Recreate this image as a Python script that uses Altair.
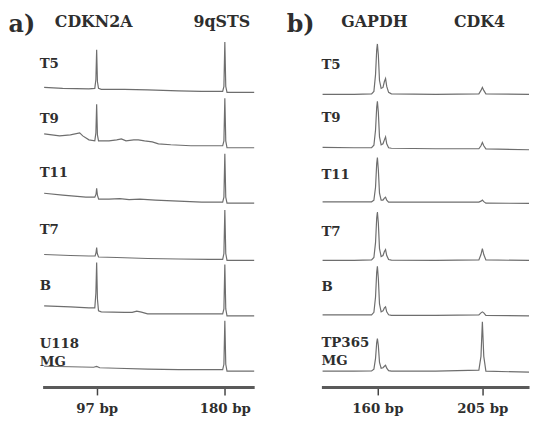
import altair as alt
import pandas as pd

# ---------------- panel a) : CDKN2A / 9qSTS ----------------
A_LABELS = ["T5", "T9", "T11", "T7", "B", "U118\nMG"]
A_MARKERS = ["CDKN2A", "9qSTS"]
A_MARKER_BP = [97, 180]
A_TICKS = [97, 180]

A_T5_BP = [63, 75, 92, 95.8, 96.5, 97.0, 97.5, 98.2, 100, 115, 130, 150, 165, 178.6, 179.4, 180.0, 180.6, 181.4, 190, 199]
A_T5_SIG = [4, 3, 2.5, 3, 12, 42, 10, 3, 2, 2, 1.5, 0.5, 0, 0, 5, 50, 5, -1, -1, -1]

A_T9_BP = [63, 73, 80, 86, 88, 92, 95.8, 96.5, 97.0, 97.5, 98.2, 105, 110, 113, 116, 121, 124, 128, 133, 137, 145, 158, 170, 178.6, 179.4, 180.0, 180.6, 181.4, 190, 199]
A_T9_SIG = [13, 11, 12, 14, 11, 7, 6, 14, 43, 12, 6, 6, 7, 8, 6, 7, 7, 6, 5, 3, 2, 1, 1, 1, 6, 49, 6, -1, -1, -1]

A_T11_BP = [63, 75, 90, 95.8, 96.6, 97.0, 97.5, 98.3, 105, 112, 118, 125, 135, 150, 165, 178.6, 179.4, 180.0, 180.6, 181.4, 199]
A_T11_SIG = [9, 7, 5, 5, 8, 14, 7, 3, 3, 3.5, 2.5, 3, 2, 1, 0, 0, 5, 49, 5, -1, -1]

A_T7_BP = [63, 80, 92, 96.0, 96.6, 97.0, 97.4, 98.2, 110, 130, 150, 170, 178.6, 179.4, 180.0, 180.6, 181.4, 199]
A_T7_SIG = [3, 2, 1.5, 1.5, 5, 10, 4, 0.5, 0, -1, -1.5, -2, -2, 4, 48, 4, -3, -3]

A_B_BP = [63, 80, 92, 95.8, 96.5, 97.0, 97.5, 98.2, 100, 115, 120, 123, 126, 130, 150, 170, 178.6, 179.4, 180.0, 180.6, 181.4, 199]
A_B_SIG = [7, 6, 5, 5, 20, 51, 14, 2, 1, 0.5, 0.5, 1.8, 0.8, -1, -1, -1, -1, 4, 49, 4, -3, -3]

A_U118_BP = [63, 80, 95, 97, 99, 110, 130, 150, 170, 178.6, 179.4, 180.0, 180.6, 181.4, 199]
A_U118_SIG = [2, 1.5, 1, 1.8, 0.5, 0, -1, -1.5, -1.5, -1.5, 4, 48, 4, -3, -3]

# ---------------- panel b) : GAPDH / CDK4 ----------------
B_LABELS = ["T5", "T9", "T11", "T7", "B", "TP365\nMG"]
B_MARKERS = ["GAPDH", "CDK4"]
B_MARKER_BP = [160, 205]
B_TICKS = [160, 205]

B_BP = [136.5, 150, 157.5, 158.5, 159.2, 159.7, 160.0, 160.4, 160.9, 161.6, 162.4, 163.0, 163.5, 164.0, 164.8, 166, 185, 203.5, 204.4, 205.0, 205.6, 206.5, 225]
B_T5_SIG = [0, 0, 0.5, 3, 20, 45, 51, 40, 14, 6, 7, 13, 16, 8, 2, 0.5, 0, 0.5, 4, 7, 4, 0.5, 0]
B_T9_SIG = [2.3, 2, 2, 4.5, 20, 43, 49, 38, 13, 5, 6, 10, 13, 6, 2, 1.5, 1, 1, 4, 7.3, 4, 0.8, 0]
B_T11_SIG = [3.3, 3.3, 3.3, 5, 18, 42, 48, 36, 12, 5, 5, 7, 8, 5, 3, 3, 3, 3, 4, 5, 3.5, 2, 1.7]
B_T7_SIG = [0, 0, 0.5, 3, 18, 43, 49, 38, 12, 4, 5, 9, 11, 5, 1, 0.3, 0, 0.5, 6, 12, 6, 0.5, 0]
B_B_SIG = [1, 1, 1, 3.5, 19, 44, 50, 38, 12, 4, 5, 8, 9, 4, 1, 0.5, 0.5, 1, 3, 4, 3, 0.5, 0]
B_TP365_SIG = [0, 0, 0.3, 2, 13, 29, 33, 26, 9, 3, 3.5, 5, 6, 3, 0.5, 0, 0, 1, 15, 50, 15, 0, -1]

# ---------------- styling ----------------
SERIF = "DejaVu Serif"
LINE_COLOR = "#6e6e6e"
TEXT_COLOR = "#2e2e2e"
ROW_H = 56


def make_rows(traces, labels, label_ys, label_x, markers, marker_bp, ticks, domain, ydomain, width, letter):
    rows = []
    n = len(traces)
    for i, ((bp, sig), lab, ly) in enumerate(zip(traces, labels, label_ys)):
        df = pd.DataFrame({"bp": bp, "sig": sig})
        if i == n - 1:
            axis = alt.Axis(values=ticks, labelExpr="datum.value + ' bp'", title=None, grid=False,
                            offset=13, domainWidth=3, domainColor="#5a5a5a", tickColor="#444",
                            tickWidth=1.5, tickSize=8, labelFont=SERIF, labelFontWeight="bold",
                            labelFontSize=13.5, labelColor=TEXT_COLOR, labelPadding=7)
        else:
            axis = None
        line = alt.Chart(df).mark_line(color=LINE_COLOR, strokeWidth=1.2).encode(
            x=alt.X("bp:Q", scale=alt.Scale(domain=domain, nice=False, zero=False), axis=axis),
            y=alt.Y("sig:Q", scale=alt.Scale(domain=ydomain, nice=False, zero=False), axis=None),
        )
        lab_df = pd.DataFrame({"label": [lab]})
        txt = alt.Chart(lab_df).mark_text(
            font=SERIF, fontWeight="bold", fontSize=13.5, color=TEXT_COLOR,
            align="left", baseline="middle", lineBreak="\n", lineHeight=18,
        ).encode(text="label:N", x=alt.value(label_x), y=alt.value(ly))
        layers = [line, txt]
        if i == 0:
            hdr_df = pd.DataFrame({"bp": marker_bp, "name": markers})
            hdr = alt.Chart(hdr_df).mark_text(
                font=SERIF, fontWeight="bold", fontSize=16, color=TEXT_COLOR,
                align="center", baseline="middle", dx=-3,
            ).encode(x=alt.X("bp:Q", scale=alt.Scale(domain=domain, nice=False, zero=False), axis=None),
                     y=alt.value(-20), text="name:N")
            let_df = pd.DataFrame({"letter": [letter]})
            let = alt.Chart(let_df).mark_text(
                font=SERIF, fontWeight="bold", fontSize=24, color=TEXT_COLOR,
                align="center", baseline="middle",
            ).encode(text="letter:N", x=alt.value(-21), y=alt.value(-17))
            layers += [hdr, let]
        rows.append(alt.layer(*layers).properties(width=width, height=ROW_H))
    return rows


rows_a = make_rows(
    [(A_T5_BP, A_T5_SIG), (A_T9_BP, A_T9_SIG), (A_T11_BP, A_T11_SIG),
     (A_T7_BP, A_T7_SIG), (A_B_BP, A_B_SIG), (A_U118_BP, A_U118_SIG)],
    A_LABELS, [22, 22, 21, 22, 23, 26], -3, A_MARKERS, A_MARKER_BP, A_TICKS,
    [62, 199], [-6, 50], 214, "a)")
rows_b = make_rows(
    [(B_BP, B_T5_SIG), (B_BP, B_T9_SIG), (B_BP, B_T11_SIG),
     (B_BP, B_T7_SIG), (B_BP, B_B_SIG), (B_BP, B_TP365_SIG)],
    B_LABELS, [23, 21, 23, 24, 24, 25], 0, B_MARKERS, B_MARKER_BP, B_TICKS,
    [136, 225], [-3, 53], 210, "b)")

cells = []
for ra, rb in zip(rows_a, rows_b):
    cells += [ra, rb]

chart = alt.concat(
    *cells, columns=2, spacing={"row": 0, "column": 68}, bounds="flush"
).resolve_scale(
    x="independent", y="independent"
).properties(
    padding={"top": 3, "left": 0, "right": 0, "bottom": 0}
).configure_view(stroke=None)

chart.save("out.html", embed_options={"renderer": "svg", "actions": False})
